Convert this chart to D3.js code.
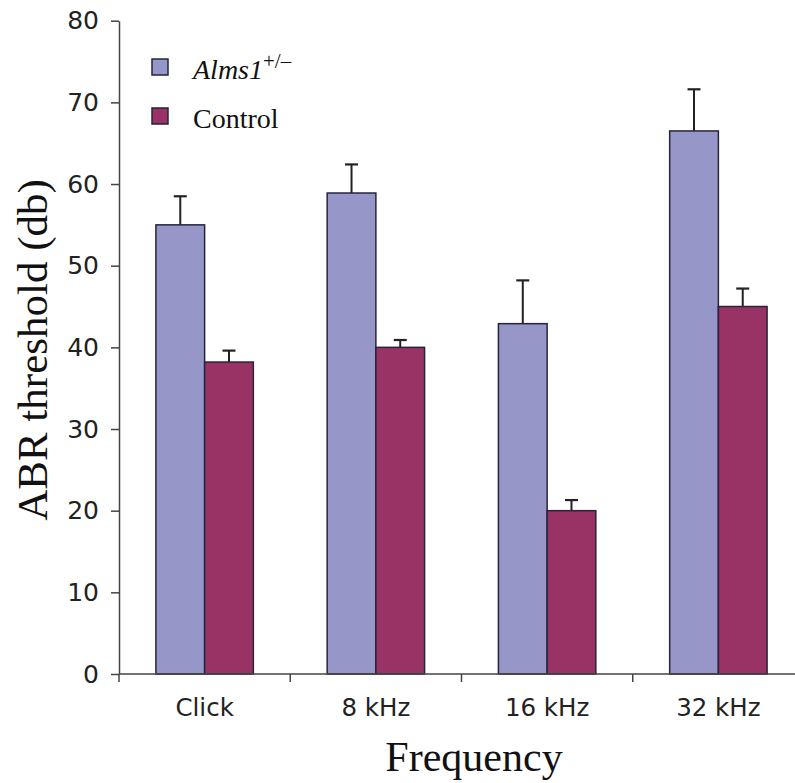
<!DOCTYPE html>
<html>
<head>
<meta charset="utf-8">
<script src="https://cdn.jsdelivr.net/npm/d3@7"></script>
<style>
  body { margin: 0; background: #fff; }
  svg { display: block; }
</style>
</head>
<body>
<div id="chart"></div>
<script>
const WIDTH = 795, HEIGHT = 783;

// data
const categories = ["Click", "8 kHz", "16 kHz", "32 kHz"];
const series = ["Alms1", "Control"];
const almsValues = [55.0, 58.9, 42.9, 66.5];
const almsErrors = [3.5, 3.5, 5.3, 5.1];
const controlValues = [38.2, 40.0, 20.0, 45.0];
const controlErrors = [1.4, 0.9, 1.3, 2.2];
const yTicks = [0, 10, 20, 30, 40, 50, 60, 70, 80];

const colors = { Alms1: "#9696c8", Control: "#993366" };

let svg = d3.select("#chart")
    .append("svg")
    .attr("width", WIDTH)
    .attr("height", HEIGHT);

let x = d3.scaleBand()
    .domain(categories)
    .range([119, 804])
    .padding(0);

let xSub = d3.scaleBand()
    .domain(series)
    .range([0, x.bandwidth()])
    .paddingInner(0)
    .paddingOuter(0.758);

let y = d3.scaleLinear()
    .domain([0, 80])
    .range([674, 20.7]);

// build rows for bars
let rows = [];
categories.forEach(function(c, i) {
    rows.push({ cat: c, s: "Alms1", v: almsValues[i], e: almsErrors[i] });
    rows.push({ cat: c, s: "Control", v: controlValues[i], e: controlErrors[i] });
});

// error bars (drawn under bars, only the upper part shows)
let errs = svg.append("g");
errs.selectAll("line.stem")
    .data(rows)
    .enter()
    .append("line")
    .attr("x1", d => x(d.cat) + xSub(d.s) + xSub.bandwidth() / 2)
    .attr("x2", d => x(d.cat) + xSub(d.s) + xSub.bandwidth() / 2)
    .attr("y1", d => y(d.v))
    .attr("y2", d => y(d.v + d.e))
    .attr("stroke", "#222")
    .attr("stroke-width", 2);

errs.selectAll("line.cap")
    .data(rows)
    .enter()
    .append("line")
    .attr("x1", d => x(d.cat) + xSub(d.s) + xSub.bandwidth() / 2 - 6.5)
    .attr("x2", d => x(d.cat) + xSub(d.s) + xSub.bandwidth() / 2 + 6.5)
    .attr("y1", d => y(d.v + d.e))
    .attr("y2", d => y(d.v + d.e))
    .attr("stroke", "#222")
    .attr("stroke-width", 2.2);

// bars
svg.append("g")
    .selectAll("rect")
    .data(rows)
    .enter()
    .append("rect")
    .attr("x", d => x(d.cat) + xSub(d.s))
    .attr("y", d => y(d.v))
    .attr("width", xSub.bandwidth())
    .attr("height", d => y(0) - y(d.v))
    .attr("fill", d => colors[d.s])
    .attr("stroke", "#26243a")
    .attr("stroke-width", 1.5);

// y axis
let yAxis = svg.append("g")
    .attr("transform", "translate(119,0)")
    .call(d3.axisLeft(y).tickValues(yTicks).tickSize(8).tickSizeOuter(0).tickPadding(12));
yAxis.select(".domain").attr("stroke", "#444").attr("stroke-width", 1.5);
yAxis.selectAll(".tick line").attr("stroke", "#444").attr("stroke-width", 1.5);
yAxis.selectAll(".tick text")
    .attr("font-family", "DejaVu Sans")
    .attr("font-size", 25)
    .attr("fill", "#222");

// x axis: labels at band centres, ticks at band boundaries
let xAxis = svg.append("g")
    .attr("transform", "translate(0,674)")
    .call(d3.axisBottom(x).tickSize(0).tickSizeOuter(0).tickPadding(25));
xAxis.select(".domain").remove();
xAxis.selectAll(".tick text")
    .attr("font-family", "DejaVu Sans")
    .attr("font-size", 24.5)
    .attr("fill", "#222");
xAxis.append("line")
    .attr("x1", 119).attr("x2", WIDTH)
    .attr("y1", 0).attr("y2", 0)
    .attr("stroke", "#444").attr("stroke-width", 1.5);
xAxis.selectAll("line.sep")
    .data(categories)
    .enter()
    .append("line")
    .attr("x1", d => x(d)).attr("x2", d => x(d))
    .attr("y1", 0).attr("y2", 8)
    .attr("stroke", "#444").attr("stroke-width", 1.5);

// axis titles
svg.append("text")
    .attr("x", 474)
    .attr("y", 771)
    .attr("text-anchor", "middle")
    .attr("font-family", "Liberation Serif")
    .attr("font-size", 42)
    .attr("fill", "#111")
    .text("Frequency");

svg.append("text")
    .attr("transform", "translate(47,350) rotate(-90)")
    .attr("text-anchor", "middle")
    .attr("font-family", "Liberation Serif")
    .attr("font-size", 43)
    .attr("fill", "#111")
    .text("ABR threshold (db)");

// legend
let legend = svg.append("g");
legend.selectAll("rect")
    .data(series)
    .enter()
    .append("rect")
    .attr("x", 152)
    .attr("y", (d, i) => 59 + i * 49)
    .attr("width", 16)
    .attr("height", 16)
    .attr("fill", d => colors[d])
    .attr("stroke", "#26243a")
    .attr("stroke-width", 1.5);

let t1 = legend.append("text")
    .attr("x", 193)
    .attr("y", 79)
    .attr("font-family", "Liberation Serif")
    .attr("font-size", 28)
    .attr("fill", "#111");
t1.append("tspan").attr("font-style", "italic").text("Alms1");
t1.append("tspan").attr("font-size", 21).attr("dy", -11).text("+/\u2013");

legend.append("text")
    .attr("x", 193)
    .attr("y", 128)
    .attr("font-family", "Liberation Serif")
    .attr("font-size", 28)
    .attr("fill", "#111")
    .text("Control");
</script>
</body>
</html>
